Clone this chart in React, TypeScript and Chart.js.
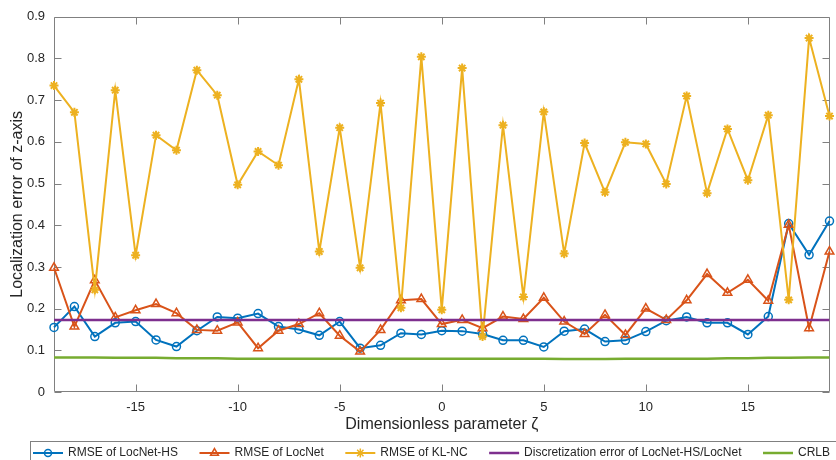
import { useEffect, useRef } from 'react';
import { Chart, registerables } from 'chart.js';

Chart.register(...registerables);

const ZETA = [-19, -18, -17, -16, -15, -14, -13, -12, -11, -10, -9, -8, -7, -6, -5, -4, -3, -2, -1, 0, 1, 2, 3, 4, 5, 6, 7, 8, 9, 10, 11, 12, 13, 14, 15, 16, 17, 18, 19];

const LOCNET_HS = [0.155, 0.205, 0.133, 0.166, 0.169, 0.125, 0.109, 0.147, 0.180, 0.177, 0.188, 0.157, 0.150, 0.136, 0.169, 0.105, 0.112, 0.141, 0.138, 0.147, 0.146, 0.139, 0.124, 0.124, 0.108, 0.146, 0.151, 0.121, 0.124, 0.145, 0.171, 0.180, 0.166, 0.166, 0.138, 0.181, 0.404, 0.329, 0.410];

const LOCNET = [0.298, 0.157, 0.268, 0.179, 0.196, 0.211, 0.189, 0.149, 0.147, 0.167, 0.105, 0.147, 0.163, 0.189, 0.135, 0.097, 0.149, 0.220, 0.223, 0.163, 0.173, 0.153, 0.181, 0.175, 0.226, 0.169, 0.139, 0.185, 0.137, 0.200, 0.173, 0.220, 0.283, 0.238, 0.269, 0.219, 0.401, 0.153, 0.337];

const KL_NC = [0.735, 0.671, 0.245, 0.724, 0.328, 0.616, 0.580, 0.772, 0.712, 0.497, 0.577, 0.544, 0.750, 0.337, 0.634, 0.298, 0.693, 0.202, 0.804, 0.197, 0.777, 0.133, 0.640, 0.228, 0.672, 0.332, 0.597, 0.479, 0.599, 0.595, 0.499, 0.710, 0.477, 0.631, 0.508, 0.664, 0.221, 0.849, 0.662];

const DISC_X = [-19, 19];
const DISC_ERR = [0.173, 0.173];

const CRLB = [0.083, 0.083, 0.083, 0.082, 0.082, 0.082, 0.081, 0.081, 0.081, 0.080, 0.080, 0.080, 0.080, 0.080, 0.080, 0.080, 0.080, 0.080, 0.080, 0.080, 0.080, 0.080, 0.080, 0.080, 0.080, 0.079, 0.079, 0.079, 0.080, 0.080, 0.080, 0.080, 0.080, 0.081, 0.081, 0.082, 0.082, 0.083, 0.083];

const X_TICKS = [-15, -10, -5, 0, 5, 10, 15];
const Y_TICKS = [0, 0.1, 0.2, 0.3, 0.4, 0.5, 0.6, 0.7, 0.8, 0.9];

const LEGEND_LABELS = [
  'RMSE of LocNet-HS',
  'RMSE of LocNet',
  'RMSE of KL-NC',
  'Discretization error of LocNet-HS/LocNet',
  'CRLB',
];

const BLUE = '#0072BD';
const ORANGE = '#D95319';
const YELLOW = '#EDB120';
const PURPLE = '#7E2F8E';
const GREEN = '#77AC30';
const AX = '#808080';
const TXT = '#262626';
const FONT = '"Liberation Sans", Arial, Helvetica, sans-serif';

const pts = (xs: number[], ys: number[]) => xs.map((x, i) => ({ x, y: ys[i] }));

function drawMarker(ctx: CanvasRenderingContext2D, style: string, cx: number, cy: number, color: string) {
  ctx.save();
  ctx.strokeStyle = color;
  ctx.lineWidth = 1.5;
  ctx.beginPath();
  if (style === 'circle') {
    ctx.arc(cx, cy, 3.5, 0, Math.PI * 2);
  } else if (style === 'triangle') {
    const r = 4.5;
    ctx.moveTo(cx, cy - r);
    ctx.lineTo(cx + r * 0.866, cy + r * 0.5);
    ctx.lineTo(cx - r * 0.866, cy + r * 0.5);
    ctx.closePath();
  } else if (style === 'star') {
    const r = 4.5;
    for (let k = 0; k < 4; k++) {
      const a = (k * Math.PI) / 4;
      ctx.moveTo(cx - r * Math.cos(a), cy - r * Math.sin(a));
      ctx.lineTo(cx + r * Math.cos(a), cy + r * Math.sin(a));
    }
  }
  ctx.stroke();
  ctx.restore();
}

const matlabAxes = {
  id: 'matlabAxes',
  beforeDatasetsDraw(chart: any) {
    const { ctx, chartArea, scales } = chart;
    const { left, right, top, bottom } = chartArea;
    const xs = scales.x;
    const ys = scales.y;
    ctx.save();
    ctx.strokeStyle = AX;
    ctx.lineWidth = 1;
    ctx.beginPath();
    const L = Math.round(left) + 0.5;
    const R = Math.round(right) - 0.5;
    const T = Math.round(top) + 0.5;
    const B = Math.round(bottom) - 0.5;
    ctx.moveTo(L, T);
    ctx.lineTo(R, T);
    ctx.lineTo(R, B);
    ctx.lineTo(L, B);
    ctx.closePath();
    const tl = 7;
    X_TICKS.forEach((v) => {
      const px = Math.round(xs.getPixelForValue(v)) + 0.5;
      ctx.moveTo(px, B);
      ctx.lineTo(px, B - tl);
      ctx.moveTo(px, T);
      ctx.lineTo(px, T + tl);
    });
    Y_TICKS.forEach((v) => {
      const py = Math.round(ys.getPixelForValue(v)) + 0.5;
      ctx.moveTo(L, py);
      ctx.lineTo(L + tl, py);
      ctx.moveTo(R, py);
      ctx.lineTo(R - tl, py);
    });
    ctx.stroke();
    ctx.restore();
  },
};

const matlabLegend = {
  id: 'matlabLegend',
  afterDraw(chart: any) {
    const { ctx } = chart;
    const items = [
      { label: LEGEND_LABELS[0], color: BLUE, marker: 'circle', lw: 2 },
      { label: LEGEND_LABELS[1], color: ORANGE, marker: 'triangle', lw: 2 },
      { label: LEGEND_LABELS[2], color: YELLOW, marker: 'star', lw: 2 },
      { label: LEGEND_LABELS[3], color: PURPLE, marker: '', lw: 2.5 },
      { label: LEGEND_LABELS[4], color: GREEN, marker: '', lw: 2.5 },
    ];
    ctx.save();
    ctx.font = `12px ${FONT}`;
    const sample = 30;
    const gapText = 5;
    const startX = 33;
    const endX = 830;
    const widths = items.map((it) => ctx.measureText(it.label).width);
    const used = widths.reduce((a, w) => a + w + sample + gapText, 0);
    const gap = (endX - startX - used) / (items.length - 1);
    const boxTop = 441.5;
    const cy = 453;
    ctx.strokeStyle = AX;
    ctx.lineWidth = 1;
    ctx.strokeRect(30.5, boxTop, 836, 40);
    let x = startX;
    items.forEach((it, i) => {
      ctx.strokeStyle = it.color;
      ctx.lineWidth = it.lw;
      ctx.beginPath();
      ctx.moveTo(x, cy);
      ctx.lineTo(x + sample, cy);
      ctx.stroke();
      if (it.marker) drawMarker(ctx, it.marker, x + sample / 2, cy, it.color);
      ctx.fillStyle = TXT;
      ctx.textAlign = 'left';
      ctx.textBaseline = 'middle';
      ctx.fillText(it.label, x + sample + gapText, cy);
      x += sample + gapText + widths[i] + gap;
    });
    ctx.restore();
  },
};

export default function App() {
  const ref = useRef<HTMLCanvasElement | null>(null);

  useEffect(() => {
    if (!ref.current) return;
    const chart = new Chart(ref.current, {
      type: 'line',
      data: {
        datasets: [
          {
            label: LEGEND_LABELS[0],
            data: pts(ZETA, LOCNET_HS),
            borderColor: BLUE,
            backgroundColor: 'rgba(0,0,0,0)',
            borderWidth: 2,
            pointStyle: 'circle',
            pointRadius: 4,
            pointBorderWidth: 1.5,
            pointBorderColor: BLUE,
            pointBackgroundColor: 'rgba(0,0,0,0)',
            tension: 0,
            clip: false,
            order: 5,
          },
          {
            label: LEGEND_LABELS[1],
            data: pts(ZETA, LOCNET),
            borderColor: ORANGE,
            backgroundColor: 'rgba(0,0,0,0)',
            borderWidth: 2,
            pointStyle: 'triangle',
            pointRadius: 5,
            pointBorderWidth: 1.5,
            pointBorderColor: ORANGE,
            pointBackgroundColor: 'rgba(0,0,0,0)',
            tension: 0,
            clip: false,
            order: 4,
          },
          {
            label: LEGEND_LABELS[2],
            data: pts(ZETA, KL_NC),
            borderColor: YELLOW,
            backgroundColor: YELLOW,
            borderWidth: 2,
            pointStyle: 'star',
            pointRadius: 4.5,
            pointBorderWidth: 2,
            pointBorderColor: YELLOW,
            tension: 0,
            clip: false,
            order: 3,
          },
          {
            label: LEGEND_LABELS[3],
            data: pts(DISC_X, DISC_ERR),
            borderColor: PURPLE,
            borderWidth: 2.5,
            pointRadius: 0,
            tension: 0,
            order: 2,
          },
          {
            label: LEGEND_LABELS[4],
            data: pts(ZETA, CRLB),
            borderColor: GREEN,
            borderWidth: 2.5,
            pointRadius: 0,
            tension: 0,
            order: 1,
          },
        ],
      },
      options: {
        animation: false,
        responsive: false,
        events: [],
        layout: { padding: { top: 13, right: 0, bottom: 0, left: 0 } },
        plugins: {
          legend: { display: false },
          tooltip: { enabled: false },
        },
        scales: {
          x: {
            type: 'linear',
            min: -19,
            max: 19,
            afterBuildTicks: (s: any) => {
              s.ticks = X_TICKS.map((v) => ({ value: v }));
            },
            afterFit: (s: any) => {
              s.height = 68;
            },
            grid: { display: false, drawTicks: false },
            border: { display: false },
            ticks: {
              color: TXT,
              font: { size: 13, family: FONT },
              padding: 8,
              maxRotation: 0,
              autoSkip: false,
              callback: (v: any) => String(v),
            },
            title: {
              display: true,
              text: 'Dimensionless parameter ζ',
              color: TXT,
              font: { size: 16, family: FONT },
              padding: { top: 0, bottom: 26 },
            },
          },
          y: {
            type: 'linear',
            min: 0,
            max: 0.9,
            afterBuildTicks: (s: any) => {
              s.ticks = Y_TICKS.map((v) => ({ value: v }));
            },
            afterFit: (s: any) => {
              s.width = 54;
            },
            grid: { display: false, drawTicks: false },
            border: { display: false },
            ticks: {
              color: TXT,
              font: { size: 13, family: FONT },
              padding: 9,
              autoSkip: false,
              callback: (v: any) => {
                const r = Math.round(Number(v) * 10) / 10;
                return r === 0 ? '0' : r.toFixed(1);
              },
            },
            title: {
              display: true,
              text: 'Localization error of z-axis',
              color: TXT,
              font: { size: 16, family: FONT },
              padding: { top: 8, bottom: 0 },
            },
          },
        },
      },
      plugins: [matlabAxes, matlabLegend],
    });
    return () => chart.destroy();
  }, []);

  return (
    <canvas
      ref={ref}
      width={836}
      height={460}
      style={{ position: 'fixed', left: 0, top: 0, width: 836, height: 460, display: 'block' }}
    />
  );
}
